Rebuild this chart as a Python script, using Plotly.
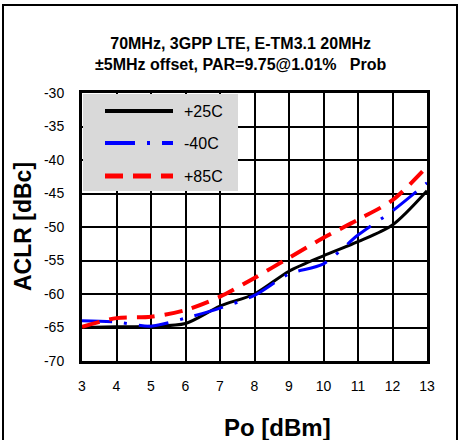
import plotly.graph_objects as go

po = [3, 4, 5, 6, 7, 8, 9, 10, 11, 12, 13]
aclr_25c = [-65.0, -64.9, -64.8, -64.4, -61.8, -60.0, -56.6, -54.3, -52.2, -49.7, -44.6]
aclr_m40c = [-64.0, -64.2, -64.8, -63.6, -62.1, -60.2, -57.0, -55.5, -51.2, -47.6, -43.4]
aclr_85c = [-64.9, -63.6, -63.4, -62.4, -60.4, -57.6, -54.6, -51.6, -48.9, -46.0, -41.0]
series_names = ["+25C", "-40C", "+85C"]
y_ticks = [-70, -65, -60, -55, -50, -45, -40, -35, -30]
y_tick_labels = ["-70", "-65", "-60", "-55", "-50", "-45", "-40", "-35", "-30"]
title_lines = ["70MHz, 3GPP LTE, E-TM3.1 20MHz", "±5MHz offset, PAR=9.75@1.01%   Prob"]

FONT = "Liberation Sans, Arial, sans-serif"
styles = [
    dict(color="black", width=3, dash="solid"),
    dict(color="#0000ff", width=3, dash="30px,12px,3px,12px"),
    dict(color="#ff0000", width=4, dash="18px,10px"),
]

fig = go.Figure()
for name, ys, st in zip(series_names, [aclr_25c, aclr_m40c, aclr_85c], styles):
    fig.add_trace(go.Scatter(x=po, y=ys, mode="lines", name=name,
                             line=dict(shape="spline", smoothing=0.8, **st),
                             showlegend=False))

W, H = 460, 440
L, R, T, B = 82, 33, 93, 79
pw, ph = W - L - R, H - T - B

def px_x(p):
    return (p - L) / pw

def px_y(p):
    return (H - B - p) / ph

shapes = []
shapes.append(dict(type="rect", xref="paper", yref="paper",
                   x0=px_x(3), x1=px_x(457), y0=px_y(446), y1=px_y(5),
                   line=dict(color="black", width=2), fillcolor="rgba(0,0,0,0)", layer="below"))
shapes.append(dict(type="rect", xref="paper", yref="paper",
                   x0=px_x(83), x1=px_x(238), y0=px_y(191), y1=px_y(94),
                   line=dict(width=0), fillcolor="#d9d9d9", layer="above"))
annotations = []
leg_y = [111, 143, 176]
for name, st, yy in zip(series_names, styles, leg_y):
    shapes.append(dict(type="line", xref="paper", yref="paper",
                       x0=px_x(105), x1=px_x(173), y0=px_y(yy), y1=px_y(yy),
                       line=dict(color=st["color"], width=st["width"] + 1, dash=st["dash"]),
                       layer="above"))
    annotations.append(dict(text=name, xref="paper", yref="paper", x=px_x(182), y=px_y(yy),
                            xanchor="left", yanchor="middle", showarrow=False,
                            font=dict(family=FONT, size=16, color="black")))

annotations.append(dict(text=title_lines[0] + "<br>" + title_lines[1], xref="paper", yref="paper",
                        x=px_x(241), y=px_y(54), xanchor="center", yanchor="middle",
                        showarrow=False, align="center",
                        font=dict(family=FONT, size=16, color="black", weight="bold")))
annotations.append(dict(text="Po [dBm]", xref="paper", yref="paper",
                        x=px_x(277), y=px_y(427), xanchor="center", yanchor="middle",
                        showarrow=False,
                        font=dict(family=FONT, size=24, color="black", weight="bold")))
annotations.append(dict(text="ACLR [dBc]", xref="paper", yref="paper", textangle=-90,
                        x=px_x(23), y=px_y(227), xanchor="center", yanchor="middle",
                        showarrow=False,
                        font=dict(family=FONT, size=23, color="black", weight="bold")))

fig.update_layout(
    width=W, height=H,
    margin=dict(l=L, r=R, t=T, b=B, autoexpand=False),
    paper_bgcolor="white", plot_bgcolor="white",
    shapes=shapes, annotations=annotations,
    font=dict(family=FONT, size=14, color="black"),
    showlegend=False,
)
fig.update_xaxes(range=[3, 13], dtick=1, tick0=3, showgrid=True, gridcolor="black", gridwidth=2,
                 showline=True, linecolor="black", linewidth=3, mirror=True, zeroline=False,
                 ticks="", ticklabelstandoff=10,
                 tickfont=dict(family=FONT, size=14))
fig.update_yaxes(range=[-70, -30], tickvals=y_ticks, ticktext=y_tick_labels,
                 showgrid=True, gridcolor="black", gridwidth=2,
                 showline=True, linecolor="black", linewidth=3, mirror=True, zeroline=False,
                 ticks="", ticklabelstandoff=12,
                 tickfont=dict(family=FONT, size=14))

fig.write_html("out.html", config={"displayModeBar": False},
               post_script="document.body.style.margin='0px';document.body.style.overflow='hidden';")
